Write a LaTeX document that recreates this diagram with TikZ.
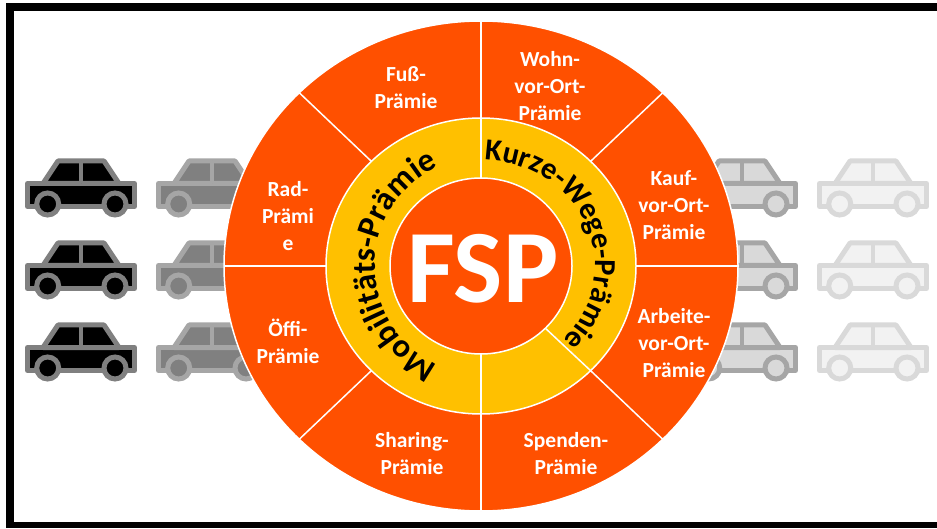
\documentclass[tikz,border=0pt]{standalone}
\usepackage{fontspec}
\setmainfont{Carlito}
\usetikzlibrary{calc, decorations.text}
\definecolor{myOrange}{RGB}{255, 80, 0}
\definecolor{myYellow}{RGB}{255, 192, 0}
\tikzstyle{ringline}= [draw=white, line width=1.5pt]
\tikzstyle{prize}= [text=white, align=center, font=\fontsize{21.5}{27}\selectfont\bfseries]
\tikzset{
    car/.pic={
        % wheels sit on top of the body line
        \draw[pic actions, line width=5pt, line join=round] (2.5,-25.5) rectangle (109.5,-48.5);
        \draw[pic actions, line width=5pt, line join=round] (18,-25.5) -- (33,-3) -- (79,-3) -- (94,-25.5) -- cycle;
        \draw[pic actions, line width=4.5pt] (56,-3) -- (56,-25.5);
        \draw[pic actions, line width=5pt] (22.7,-46) circle[radius=11];
        \draw[pic actions, line width=5pt] (90,-46) circle[radius=11];
    }
}

\begin{document}
\begin{tikzpicture}[x=1pt, y=1pt]
    \useasboundingbox (0,0) rectangle (937,528);

    % frame, open on the right
    \fill[black] (6,0) rectangle (14,525);
    \fill[black] (6,517) rectangle (937,525);
    \fill[black] (6,0) rectangle (937,6);

    % rows of cars
    \foreach \rowy in {370,288,206} {
        \pic[draw=black!50, fill=black] at (25,\rowy) {car};
        \pic[draw=black!35, fill=black!50] at (156,\rowy) {car};
        \pic[draw=black!35, fill=black!15] at (686,\rowy) {car};
        \pic[draw=black!15, fill=black!5] at (817,\rowy) {car};
    }

    \coordinate (centre) at (481,262);

    % discs
    \fill[myOrange, ringline] (centre) circle[x radius=257, y radius=245];
    \fill[myYellow, ringline] (centre) circle[x radius=155, y radius=148];
    \foreach \ang in {0,45,...,315} {
        \draw[ringline] ($(centre)+(\ang:155pt and 148pt)$) -- ($(centre)+(\ang:257pt and 245pt)$);
    }
    \foreach \ang in {90,270,-45} {
        \draw[ringline] ($(centre)+(\ang:91pt and 88pt)$) -- ($(centre)+(\ang:155pt and 148pt)$);
    }
    \fill[myOrange, ringline] (centre) circle[x radius=91, y radius=88];

    \node[text=white, font=\fontsize{104}{104}\selectfont\bfseries] (FSP) at (483,259) {FSP};

    % curved ring titles
    \path[decorate, decoration={text along path, text align=center,
        text={|\fontsize{33}{33}\selectfont\bfseries|Mobilitäts-Prämie}}]
        ($(centre)+(252:106pt and 108pt)$) arc[start angle=252, end angle=108, x radius=106, y radius=108];
    \path[decorate, decoration={text along path, text align=center,
        text={|\fontsize{30.5}{30.5}\selectfont\bfseries|Kurze-Wege-Prämie}}]
        ($(centre)+(87:114pt and 106pt)$) arc[start angle=87, end angle=-43, x radius=114, y radius=106];

    % prizes
    \node[prize] (foot) at (406,440) {Fuß-\\Prämie};
    \node[prize] (home) at (550,442) {Wohn-\\vor-Ort-\\Prämie};
    \node[prize] (buy) at (674,323) {Kauf-\\vor-Ort-\\Prämie};
    \node[prize] (work) at (674,185) {Arbeite-\\vor-Ort-\\Prämie};
    \node[prize] (donate) at (566,74) {Spenden-\\Prämie};
    \node[prize] (share) at (412,74) {Sharing-\\Prämie};
    \node[prize] (transit) at (288,187) {Öffi-\\Prämie};
    \node[prize] (bike) at (288,312) {Rad-\\Prämi\\e};

\end{tikzpicture}
\end{document}
